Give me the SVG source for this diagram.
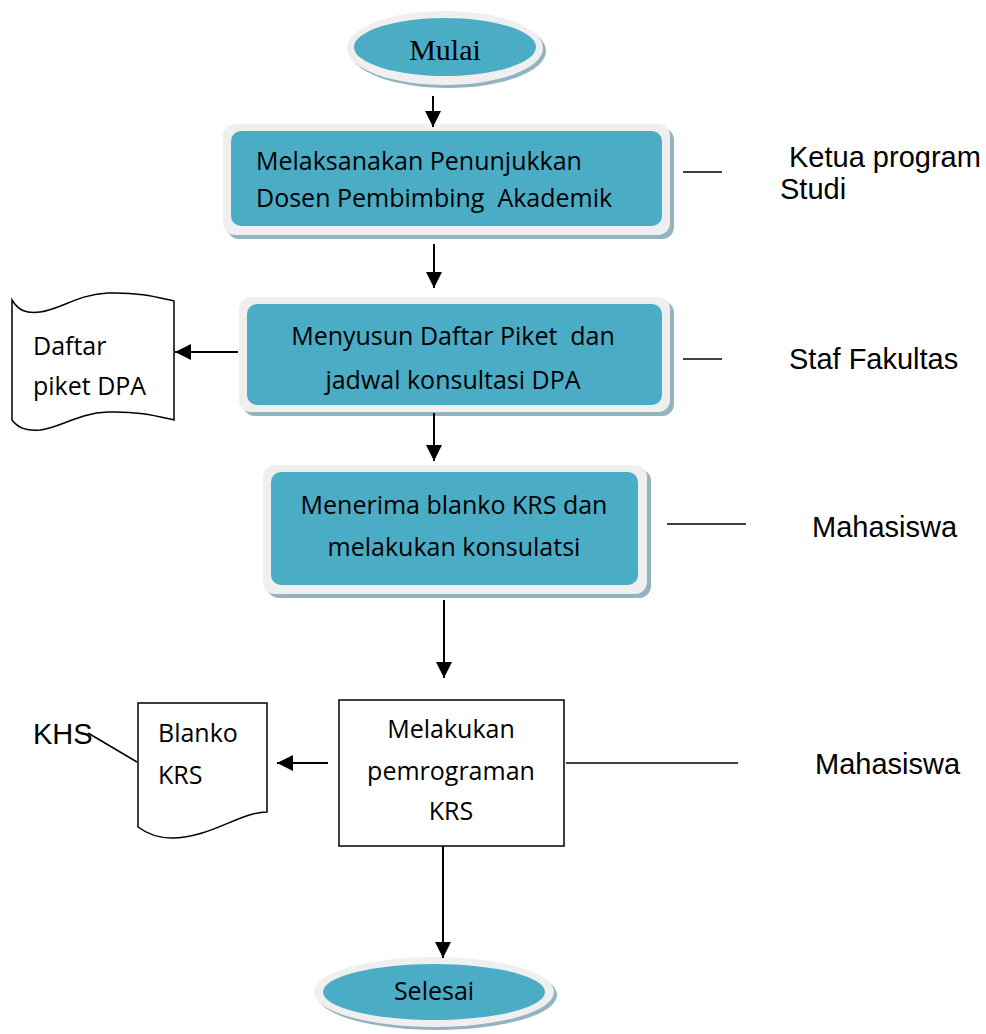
<svg xmlns="http://www.w3.org/2000/svg" width="986" height="1034" viewBox="0 0 986 1034">
  <style>
    .bg { fill: #ffffff; }
    .halo { fill: #efefef; }
    .shadow { fill: #93b3be; }
    .teal { fill: #4bacc6; }
    .plain { fill: #ffffff; stroke: #000000; stroke-width: 1.5; }
    .line { stroke: #000000; stroke-width: 2; fill: none; }
    .thin { stroke: #000000; stroke-width: 1.5; fill: none; }
    .cal { font-family: "Open Sans", "Noto Sans", sans-serif; font-size: 25px; fill: #000000; white-space: pre; }
    .ari { font-family: "Liberation Sans", Arial, sans-serif; font-size: 29px; fill: #000000; }
    .ser { font-family: "Liberation Serif", "Times New Roman", serif; font-size: 30px; fill: #000000; }
  </style>
  <defs>
    <marker id="arrowL" viewBox="0 0 10 10" refX="10" refY="5" markerWidth="16" markerHeight="16" markerUnits="userSpaceOnUse" orient="auto">
      <path d="M0,0 L10,5 L0,10 Z" fill="#000000"/>
    </marker>
  </defs>
  <rect class="bg" x="0" y="0" width="986" height="1034"/>

  <!-- start terminator -->
  <g id="mulai">
    <ellipse class="shadow" cx="448" cy="51" rx="98" ry="37"/>
    <ellipse class="halo" cx="445" cy="48" rx="98" ry="37"/>
    <ellipse class="teal" cx="445" cy="47" rx="91" ry="29"/>
    <text class="ser" x="445" y="60" text-anchor="middle">Mulai</text>
  </g>

  <!-- process 1 -->
  <g id="penunjukkan">
    <rect class="shadow" x="227" y="128" width="447" height="111" rx="12"/>
    <rect class="halo" x="223" y="124" width="447" height="111" rx="12"/>
    <rect class="teal" x="231" y="131" width="431" height="95" rx="10"/>
    <text class="cal" x="256" y="170">Melaksanakan Penunjukkan</text>
    <text class="cal" x="256" y="207">Dosen Pembimbing  Akademik</text>
  </g>

  <!-- process 2 -->
  <g id="daftar-piket">
    <rect class="shadow" x="243" y="301" width="431" height="115" rx="12"/>
    <rect class="halo" x="239" y="297" width="431" height="115" rx="12"/>
    <rect class="teal" x="247" y="304" width="415" height="101" rx="10"/>
    <text class="cal" x="453" y="345" text-anchor="middle">Menyusun Daftar Piket  dan</text>
    <text class="cal" x="453" y="389" text-anchor="middle">jadwal konsultasi DPA</text>
  </g>

  <!-- output document: duty roster -->
  <g id="dok-daftar">
    <path class="thin" d="M12,300 C18,310 26,314 40,312 C60,310 78,294 108,293 C140,292 160,298 174,301 L174,420 C160,417 140,411 108,412 C78,413 60,428 40,430 C26,431 18,428 12,420 Z" fill="#ffffff"/>
    <text class="cal" x="33" y="355">Daftar</text>
    <text class="cal" x="33" y="395">piket DPA</text>
  </g>

  <!-- process 3 -->
  <g id="konsultasi">
    <rect class="shadow" x="267" y="469" width="384" height="129" rx="12"/>
    <rect class="halo" x="263" y="465" width="384" height="129" rx="12"/>
    <rect class="teal" x="271" y="472" width="367" height="113" rx="10"/>
    <text class="cal" x="454" y="514" text-anchor="middle">Menerima blanko KRS dan</text>
    <text class="cal" x="454" y="556" text-anchor="middle">melakukan konsulatsi</text>
  </g>

  <!-- process 4 -->
  <g id="pemrograman">
    <rect class="plain" x="339" y="700" width="225" height="146"/>
    <text class="cal" x="451" y="738" text-anchor="middle">Melakukan</text>
    <text class="cal" x="451" y="780" text-anchor="middle">pemrograman</text>
    <text class="cal" x="451" y="820" text-anchor="middle">KRS</text>
  </g>

  <!-- output document: KRS form -->
  <g id="dok-blanko">
    <path class="thin" d="M138,703 L267,703 L267,812 C240,812 210,838 172,838 C158,838 146,833 138,827 Z" fill="#ffffff"/>
    <text class="cal" x="158" y="742">Blanko</text>
    <text class="cal" x="158" y="784">KRS</text>
  </g>

  <!-- end terminator -->
  <g id="selesai">
    <ellipse class="shadow" cx="437" cy="995" rx="120" ry="35"/>
    <ellipse class="halo" cx="434" cy="992" rx="120" ry="35"/>
    <ellipse class="teal" cx="434" cy="992" rx="111" ry="28"/>
    <text class="cal" x="434" y="1000" text-anchor="middle">Selesai</text>
  </g>

  <!-- actor labels -->
  <g id="aktor">
    <text class="ari" x="789" y="167">Ketua program</text>
    <text class="ari" x="780" y="199">Studi</text>
    <text class="ari" x="789" y="369">Staf Fakultas</text>
    <text class="ari" x="812" y="537">Mahasiswa</text>
    <text class="ari" x="815" y="774">Mahasiswa</text>
    <text class="ari" x="33" y="744">KHS</text>
  </g>

  <!-- connectors -->
  <g id="connectors">
    <line class="line" x1="433" y1="96" x2="433" y2="127" marker-end="url(#arrowL)"/>
    <line class="line" x1="434" y1="244" x2="434" y2="288" marker-end="url(#arrowL)"/>
    <line class="line" x1="238" y1="352" x2="175" y2="352" marker-end="url(#arrowL)"/>
    <line class="line" x1="434" y1="413" x2="434" y2="461" marker-end="url(#arrowL)"/>
    <line class="line" x1="444" y1="600" x2="444" y2="678" marker-end="url(#arrowL)"/>
    <line class="line" x1="328" y1="763" x2="277" y2="763" marker-end="url(#arrowL)"/>
    <line class="line" x1="443" y1="846" x2="443" y2="958" marker-end="url(#arrowL)"/>
    <line class="thin" x1="683" y1="172" x2="722" y2="172"/>
    <line class="thin" x1="683" y1="359" x2="722" y2="359"/>
    <line class="thin" x1="667" y1="524" x2="746" y2="524"/>
    <line class="thin" x1="566" y1="763" x2="738" y2="763"/>
    <line class="thin" x1="88" y1="733" x2="137" y2="762"/>
  </g>
</svg>
